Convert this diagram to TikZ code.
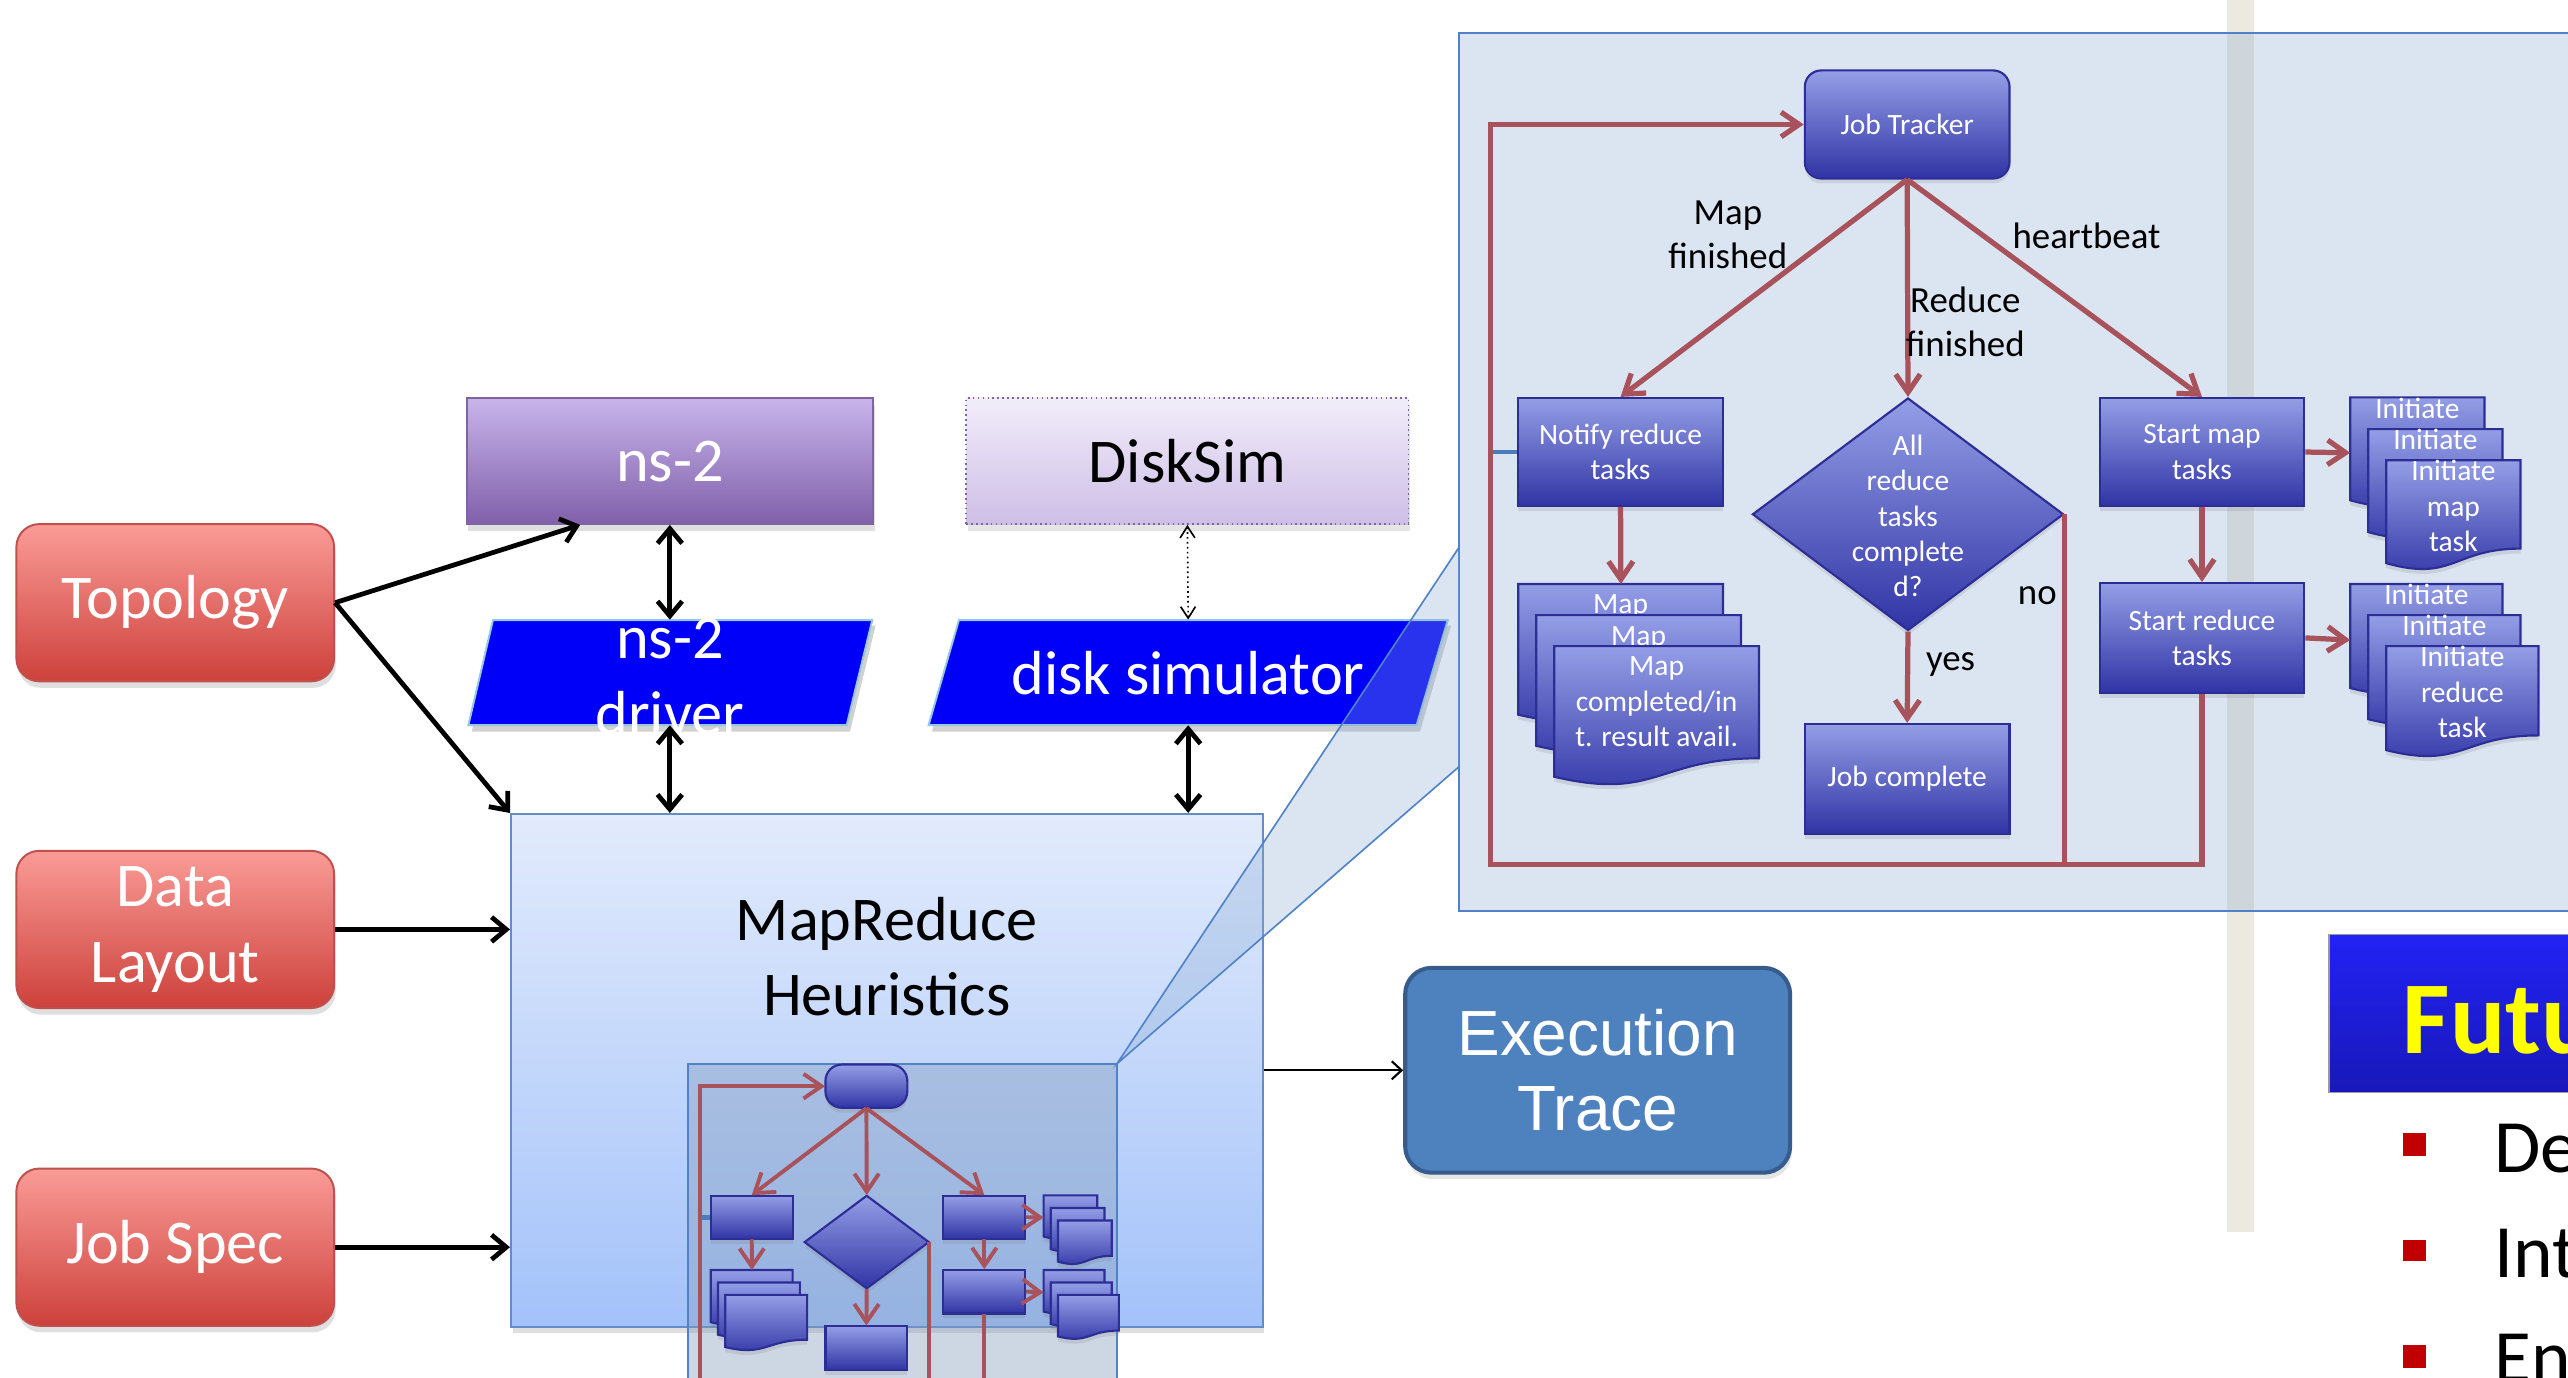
\documentclass[tikz,border=0pt]{standalone}
\usepackage{fontspec}
\setmainfont{Carlito}
\newfontfamily\arialf{Liberation Sans}
\usetikzlibrary{arrows.meta,shapes.geometric,shadows,calc}

\definecolor{redT}{RGB}{250,155,150}
\definecolor{redB}{RGB}{205,65,60}
\definecolor{redD}{RGB}{190,80,78}
\definecolor{purT}{RGB}{200,180,235}
\definecolor{purB}{RGB}{128,96,170}
\definecolor{purD}{RGB}{128,100,162}
\definecolor{lavT}{RGB}{242,237,250}
\definecolor{lavB}{RGB}{205,190,230}
\definecolor{drvBlue}{RGB}{0,0,250}
\definecolor{drvEdge}{RGB}{150,200,225}
\definecolor{mrT}{RGB}{226,235,252}
\definecolor{mrB}{RGB}{163,194,250}
\definecolor{mrD}{RGB}{100,140,200}
\definecolor{exF}{RGB}{78,130,190}
\definecolor{exD}{RGB}{55,92,140}
\definecolor{glass}{RGB}{138,172,212}
\definecolor{glassD}{RGB}{80,130,200}
\definecolor{insetF}{RGB}{130,155,188}
\definecolor{beige}{RGB}{236,233,224}
\definecolor{fcT}{RGB}{148,158,230}
\definecolor{fcB}{RGB}{48,52,165}
\definecolor{fcD}{RGB}{45,45,150}
\definecolor{fcRed}{RGB}{168,82,92}
\definecolor{stubC}{RGB}{75,125,190}
\definecolor{ttlT}{RGB}{34,34,245}
\definecolor{ttlB}{RGB}{24,24,185}
\definecolor{bulRed}{RGB}{192,0,0}
\definecolor{ttlYel}{RGB}{255,255,0}

\newcommand\fBig{\fontsize{38}{46}\selectfont}
\newcommand\fExe{\arialf\fontsize{39}{46}\selectfont}
\newcommand\fFC{\fontsize{18}{21.5}\selectfont}
\newcommand\fLab{\fontsize{22.5}{27}\selectfont}
\newcommand\fBul{\fontsize{46}{60}\selectfont}
\newcommand\fTtl{\fontsize{63}{70}\selectfont\bfseries}
\newif\ifFCtext
\newcommand\fcRW{3.2}

% document shape: name, x, y(top), w, h, text offset, text
\newcommand\fcdoc[7]{%
  \path[fcshape] (#2,#3) -- ({#2+#4},#3) -- ({#2+#4},{#3+0.802*#5})
     .. controls ({#2+0.5*#4},{#3+0.802*#5}) and ({#2+0.5*#4},{#3+1.107*#5}) ..
     (#2,{#3+0.934*#5}) -- cycle;
  \node[inner sep=0pt, minimum width=#4, minimum height=#5, anchor=north west] (#1) at (#2,#3) {};
  \ifFCtext\node[fctext, anchor=north] (#1t) at ({#2+0.5*#4},{#3+#6}) {#7};\fi
}

\newcommand\fcdraw{%
  \node[fcbox, rounded corners=10pt] (jt) at (1164.5,76) {\ifFCtext Job Tracker\fi};
  \node[fcbox] (nt) at (989.5,276) {\ifFCtext Notify reduce\\tasks\fi};
  \node[fcbox, minimum height=67] (jc) at (1164.5,475.5) {\ifFCtext Job complete\fi};
  \node[fcbox] (sm) at (1344.5,276) {\ifFCtext Start map\\tasks\fi};
  \node[fcbox, minimum height=67] (sr) at (1344.5,389.5) {\ifFCtext Start reduce\\tasks\fi};
  \node[fcbox, diamond, minimum width=190, minimum height=142, inner sep=0pt] (dia) at (1165,314) {};
  \ifFCtext\node[fctext] (diat) at (1165,315) {All\\reduce\\tasks\\complete\\d?};\fi
  \fcdoc{md1}{927}{356.6}{125}{85.4}{6.5}{Map}
  \fcdoc{md2}{938}{375.6}{125}{85.4}{6.5}{Map}
  \fcdoc{md3}{949}{394.5}{125}{85.4}{6.5}{Map\\completed/in\\t. result avail.}
  \fcdoc{im1}{1435}{242.6}{82}{67.3}{0}{Initiate}
  \fcdoc{im2}{1446}{262}{82}{67.3}{0}{Initiate}
  \fcdoc{im3}{1457}{281}{82}{67.3}{0}{Initiate\\map\\task}
  \fcdoc{ir1}{1435}{356.6}{93}{68}{0}{Initiate}
  \fcdoc{ir2}{1446}{375.6}{93}{68}{0}{Initiate}
  \fcdoc{ir3}{1457}{394.5}{93}{68}{0}{Initiate\\reduce\\task}
  \coordinate (lb) at (910,528);
  \coordinate (stubL) at (910,276);
  \draw[stubC, line width=3pt] (stubL) -- (nt.west);
  \draw[rl] (dia.east) -- (dia.east |- lb);
  \draw[ra] (sr.south) |- (lb) |- (jt.west);
  \draw[ra] (jt.south) -- (nt.north);
  \draw[ra] (jt.south) -- (dia.north);
  \draw[ra] (jt.south) -- (sm.north);
  \draw[ra] (nt.south) -- (md1.north);
  \draw[ra] (dia.south) -- (jc.north);
  \draw[ra] (sm.south) -- (sr.north);
  \draw[ra] (sm.east) -- (im1.west);
  \draw[ra] (sr.east) -- (ir1.west);
  \ifFCtext
    \node[lab] (lmap) at (1055,143.5) {Map\\finished};
    \node[lab] (lred) at (1200,196.5) {Reduce\\finished};
    \node[lab] (lhb) at (1274,144) {heartbeat};
    \node[lab] (lyes) at (1191,406) {yes};
    \node[lab] (lno) at (1244,364) {no};
  \fi
}

\begin{document}
\begin{tikzpicture}[x=1pt,y=-1pt,
  redbox/.style={rectangle, rounded corners=14pt, minimum width=194, minimum height=96, inner sep=0pt,
     top color=redT, bottom color=redB, draw=redD, line width=1.2pt, text=white, font=\fBig, align=center,
     drop shadow={shadow xshift=1pt, shadow yshift=-4pt, opacity=0.25}},
  fcbox/.style={rectangle, minimum width=125, minimum height=66, inner sep=1pt,
     top color=fcT, bottom color=fcB, draw=fcD, line width=1.3pt, text=white, font=\fFC, align=center,
     drop shadow={shadow xshift=0pt, shadow yshift=-3pt, opacity=0.2}},
  fcshape/.style={top color=fcT, bottom color=fcB, draw=fcD, line width=1.3pt,
     drop shadow={shadow xshift=0pt, shadow yshift=-3pt, opacity=0.2}},
  fctext/.style={text=white, font=\fFC, align=center, inner sep=0pt},
  lab/.style={text=black, font=\fLab, align=center, inner sep=0pt},
  rl/.style={draw=fcRed, line width=\fcRW pt},
  ra/.style={rl, -{Straight Barb[length=11pt,width=15pt]}},
  blk/.style={draw=black, line width=2.9pt},
  bt/.tip={Straight Barb[length=9pt,width=15pt]},
  bigtext/.style={font=\fBig, align=center, inner sep=0pt},
]
\useasboundingbox (0,0) rectangle (1568,841);
\clip (0,0) rectangle (1568,841);
\fill[white] (0,0) rectangle (1568,841);

% beige bar and zoom panel
\fill[beige] (1360,-5) rectangle (1376,752);
\fill[glass, fill opacity=0.3] (891,20) rectangle (1600,556);
\draw[glassD, line width=1.3pt] (1600,20) -- (891,20) -- (891,556) -- (1600,556);

% large flowchart
\FCtexttrue
\fcdraw

% left inputs
\node[redbox] (topo) at (107,368) {Topology};
\node[redbox] (data) at (107,567.5) {Data\\Layout};
\node[redbox] (job) at (107,761.5) {Job Spec};

% simulators
\node[rectangle, minimum width=248, minimum height=77, inner sep=0pt, top color=purT, bottom color=purB,
      draw=purD, line width=1pt, text=white, font=\fBig,
      drop shadow={shadow xshift=1pt, shadow yshift=-4pt, opacity=0.25}] (ns2) at (409,281.5) {ns-2};
\node[rectangle, minimum width=270, minimum height=77, inner sep=0pt, top color=lavT, bottom color=lavB,
      draw=purD, dotted, line width=1pt, text=black, font=\fBig,
      drop shadow={shadow xshift=1pt, shadow yshift=-4pt, opacity=0.2}] (ds) at (725,281.5) {DiskSim};

% MapReduce box
\node[rectangle, minimum width=459, minimum height=313, inner sep=0pt, top color=mrT, bottom color=mrB,
      draw=mrD, line width=1.2pt,
      drop shadow={shadow xshift=1pt, shadow yshift=-4pt, opacity=0.25}] (mr) at (541.5,653.5) {};
\node[bigtext, text=black] (mrt) at (541.5,584) {MapReduce\\Heuristics};

% drivers (parallelograms)
\fill[black, opacity=0.18] (303,382) -- (534.6,382) -- (519,446.7) -- (288,446.7) -- cycle;
\fill[black, opacity=0.18] (587.5,382) -- (886,382) -- (867,446.7) -- (569,446.7) -- cycle;
\filldraw[fill=drvBlue, draw=drvEdge, line width=1.2pt] (301,378.6) -- (532.6,378.6) -- (517,442.7) -- (286,442.7) -- cycle;
\filldraw[fill=drvBlue, draw=drvEdge, line width=1.2pt] (585.5,378.6) -- (884,378.6) -- (865,442.7) -- (567,442.7) -- cycle;
\node[inner sep=0pt, minimum width=232, minimum height=64.1] (drv) at (409,410.6) {};
\node[inner sep=0pt, minimum width=298, minimum height=64.1] (dsim) at (725.5,410.6) {};
\node[bigtext, text=white] (drvt) at (409,413) {ns-2\\driver};
\node[bigtext, text=white] (dsimt) at (725.5,411) {disk simulator};

% execution trace
\node[rectangle, rounded corners=16pt, minimum width=235, minimum height=125, inner sep=0pt, fill=exF,
      draw=exD, line width=2.5pt, text=white, font=\fExe, align=center,
      drop shadow={shadow xshift=1pt, shadow yshift=-4pt, opacity=0.2}] (ex) at (975.5,653.5) {Execution\\Trace};

% connectors
\draw[blk, -bt] (topo.east) -- ($(ns2.south west)!0.28!(ns2.south east)$);
\draw[blk, -bt] (topo.east) -- (mr.north west);
\draw[blk, -bt] (data.east) -- (data.east -| mr.west);
\draw[blk, -bt] (job.east) -- (job.east -| mr.west);
\draw[blk, bt-bt] (ns2.south) -- (drv.north);
\draw[blk, bt-bt] (drv.south) -- (drv.south |- mr.north);
\draw[blk, bt-bt] (dsim.south) -- (dsim.south |- mr.north);
\draw[line width=1pt, dotted, {Straight Barb[length=7pt,width=9pt]}-{Straight Barb[length=7pt,width=9pt]}] (ds.south) -- (dsim.north);
\draw[line width=1.3pt, -{Straight Barb[length=6pt,width=11pt]}] (mr.east) -- (ex.west);

% callout
\coordinate (ins) at (682,649.5);
\coordinate (calA) at (891,334);
\coordinate (calB) at (891,468);
\fill[glass, fill opacity=0.3] (ins) -- (calA) -- (calB) -- cycle;
\draw[glassD, line width=1pt] (calA) -- (ins) -- (calB);

% inset with miniature flowchart
\fill[insetF, fill opacity=0.4] (420,649.5) rectangle (682,860);
\draw[glassD, line width=1pt] (420,860) -- (420,649.5) -- (682,649.5) -- (682,860);
\begin{scope}[shift={(504,650)}, scale=0.4, shift={(-1102,-43)}, transform shape, name prefix=m]
  \FCtextfalse
  \renewcommand\fcRW{2.4}
  \fcdraw
\end{scope}

% right slide fragment
\shade[top color=ttlT, bottom color=ttlB] (1422,570.5) rectangle (1600,667);
\draw[black!40, line width=0.8pt] (1600,570.5) -- (1422,570.5) -- (1422,667) -- (1600,667);
\node[anchor=base west, inner sep=0pt, text=ttlYel, font=\fTtl] (ttl) at (1467,643) {Futu};
\fill[bulRed] (1467,692) rectangle (1481,706);
\fill[bulRed] (1467,757) rectangle (1481,770);
\fill[bulRed] (1467,821) rectangle (1481,835);
\node[anchor=base west, inner sep=0pt, font=\fBul] (b1) at (1523,716) {De};
\node[anchor=base west, inner sep=0pt, font=\fBul] (b2) at (1523,780) {Int};
\node[anchor=base west, inner sep=0pt, font=\fBul] (b3) at (1523,844) {En};
\end{tikzpicture}
\end{document}
